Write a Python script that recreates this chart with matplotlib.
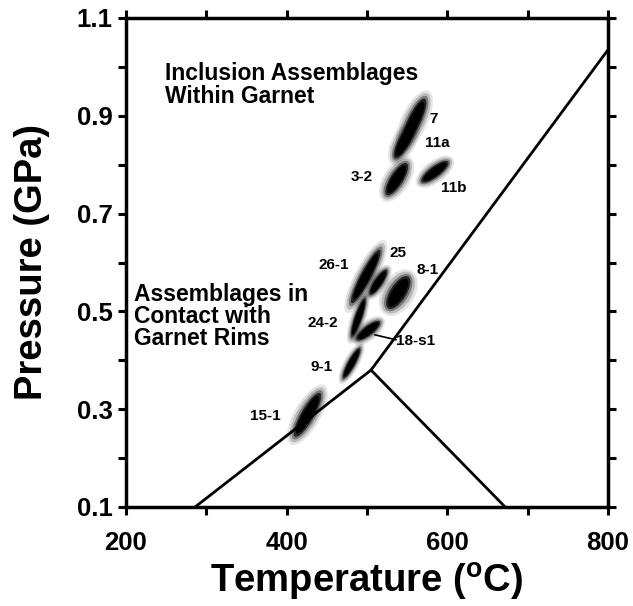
import matplotlib
matplotlib.use('Agg')
import matplotlib.pyplot as plt
from matplotlib.patches import Ellipse
from matplotlib.transforms import IdentityTransform
import numpy as np

plt.rcParams['font.family'] = ['Liberation Sans', 'DejaVu Sans']
plt.rcParams['font.weight'] = 'bold'
plt.rcParams['mathtext.fontset'] = 'custom'
plt.rcParams['mathtext.rm'] = 'Liberation Sans:bold'
plt.rcParams['mathtext.bf'] = 'Liberation Sans:bold'
plt.rcParams['mathtext.it'] = 'Liberation Sans:bold'

# ---- phase-boundary lines (Temperature degC, Pressure GPa)
lower_T = [286, 505]
lower_P = [0.10, 0.380]
upper_T = [505, 800]
upper_P = [0.380, 1.035]
right_T = [505, 672]
right_P = [0.380, 0.10]

# ---- P-T clouds: low end and high end of each elongated cloud
cloud_names = ['11a', '7', '3-2', '11b', '26-1', '25', '8-1', '24-2', '18-s1', '9-1', '15-1']
cloud_T_lo = [535, 546, 524.5, 568, 481, 503.7, 526.4, 481, 487, 470.5, 410.4]
cloud_P_lo = [0.813, 0.845, 0.738, 0.765, 0.517, 0.534, 0.506, 0.448, 0.442, 0.363, 0.244]
cloud_T_hi = [557, 572, 549.4, 601, 516, 524.4, 551.4, 497.5, 516, 491, 441.5]
cloud_P_hi = [0.880, 0.935, 0.803, 0.806, 0.626, 0.585, 0.571, 0.527, 0.479, 0.425, 0.333]
cloud_width_px = [11, 12, 12, 10, 10, 8, 15, 7, 9, 7, 12]

# ---- sample labels
label_text = ['7', '11a', '3-2', '11b', '26-1', '25', '8-1', '24-2', '18-s1', '9-1', '15-1']
label_T = [583, 587, 494, 608, 458, 538, 575, 445.5, 560, 443.5, 373]
label_P = [0.893, 0.845, 0.775, 0.752, 0.595, 0.619, 0.585, 0.476, 0.440, 0.386, 0.287]
leader_T = [510, 536]
leader_P = [0.452, 0.442]

x_ticks = [200, 300, 400, 500, 600, 700, 800]
x_ticklabels = ['200', '', '400', '', '600', '', '800']
y_ticks = [0.1, 0.2, 0.3, 0.4, 0.5, 0.6, 0.7, 0.8, 0.9, 1.0, 1.1]
y_ticklabels = ['0.1', '', '0.3', '', '0.5', '', '0.7', '', '0.9', '', '1.1']

W, H = 633, 606
fig = plt.figure(figsize=(W / 100, H / 100), dpi=100)
ax = fig.add_axes([126 / W, 1 - 507 / H, (608 - 126) / W, (507 - 18) / H])
ax.set_xlim(200, 800)
ax.set_ylim(0.1, 1.1)

lw = 2.0
ax.plot(lower_T, lower_P, color='black', lw=lw, solid_capstyle='round')
ax.plot(upper_T, upper_P, color='black', lw=lw, solid_capstyle='round')
ax.plot(right_T, right_P, color='black', lw=lw, solid_capstyle='round')

# clouds drawn in display space from data positions: fuzzy halo + dense core
layers = [(1.36, 2.2, 0.10), (1.24, 1.8, 0.18), (1.12, 1.4, 0.35),
          (1.0, 1.08, 0.7), (0.86, 0.82, 1.0)]
for tl, pl, th, ph, w in zip(cloud_T_lo, cloud_P_lo, cloud_T_hi, cloud_P_hi, cloud_width_px):
    (x0, y0), (x1, y1) = ax.transData.transform([(tl, pl), (th, ph)])
    cx, cy = (x0 + x1) / 2, (y0 + y1) / 2
    length = np.hypot(x1 - x0, y1 - y0)
    ang = np.degrees(np.arctan2(y1 - y0, x1 - x0))
    for fl, fw, a in layers:
        e = Ellipse((cx, cy), length * fl, w * fw, angle=ang,
                    transform=IdentityTransform(), facecolor='black',
                    alpha=a, edgecolor='none', zorder=3)
        ax.add_patch(e)

for t, tx, ty in zip(label_text, label_T, label_P):
    ax.text(tx, ty, t, fontsize=11, fontweight='bold', ha='center', va='center', zorder=5)
ax.plot(leader_T, leader_P, color='black', lw=1.2, zorder=5)

ax.text(248, 0.963, 'Inclusion Assemblages\nWithin Garnet', fontsize=16.5,
        fontweight='bold', ha='left', va='center', linespacing=0.95)
ax.text(210, 0.489, 'Assemblages in\nContact with\nGarnet Rims', fontsize=16.5,
        fontweight='bold', ha='left', va='center', linespacing=0.95)

for s in ax.spines.values():
    s.set_linewidth(2.5)
ax.set_xticks(x_ticks)
ax.set_xticklabels(x_ticklabels)
ax.set_yticks(y_ticks)
ax.set_yticklabels(y_ticklabels)
ax.tick_params(direction='out', length=5.5, width=2.2, top=True, right=True,
               labelsize=18.5, pad=4)
ax.tick_params(axis='x', pad=12)
for lab in ax.get_xticklabels() + ax.get_yticklabels():
    lab.set_fontweight('bold')

xl = ax.set_xlabel('Temperature (' + r'$^{\mathbf{o}}$' + 'C)', fontsize=27.5, fontweight='bold')
xl.set_va('center')
ax.xaxis.set_label_coords(0.5, -0.153)
yl = ax.set_ylabel('Pressure (GPa)', fontsize=27.5, fontweight='bold')
yl.set_va('center')
ax.yaxis.set_label_coords(-0.195, 0.5)

fig.savefig('out.png', dpi=100)
